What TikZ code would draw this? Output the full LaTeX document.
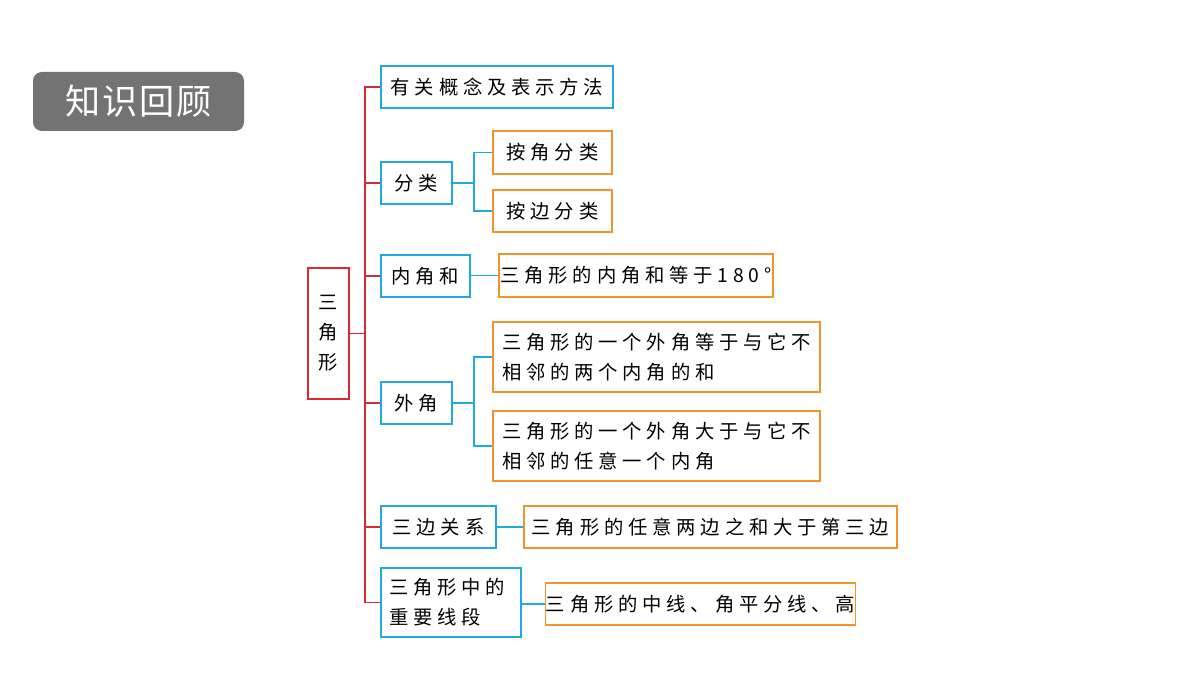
\documentclass[tikz,border=0pt]{standalone}
\usepackage{fontspec}
\setmainfont[LetterSpace=25]{Noto Sans CJK SC}
\usetikzlibrary{positioning, calc}

\definecolor{trunkred}{RGB}{220,40,50}
\definecolor{topblue}{RGB}{30,170,225}
\definecolor{leaforange}{RGB}{240,150,40}

\begin{document}
\begin{tikzpicture}[
    x=0.02cm, y=-0.02cm,
    every node/.style={font=\fontsize{11}{17}\selectfont, inner sep=0pt}, % 统一字体
    rootbox/.style={draw=trunkred, semithick, align=center},
    midbox/.style={draw=topblue, semithick, align=left},
    leafbox/.style={draw=leaforange, semithick, align=left},
    redline/.style={draw=trunkred, semithick},
    blueline/.style={draw=topblue, semithick}
]
    \useasboundingbox (0,0) rectangle (1200,675);

    % 标题
    \node[fill=black!55, rounded corners=5pt, text=white, minimum width=211*0.02cm, minimum height=59*0.02cm,
          font=\fontsize{20}{24}\selectfont\addfontfeature{LetterSpace=5}] (title) at (138.5,101.5) {知识回顾};

    % 1. 根结点
    \node[rootbox, minimum width=41*0.02cm, minimum height=131*0.02cm] (root) at (328.5,333.5) {三\\角\\形};

    % 2. 第一层
    \node[midbox, minimum width=232*0.02cm, minimum height=42*0.02cm] (concept) at (497,87) {有关概念及表示方法};
    \node[midbox, minimum width=71*0.02cm, minimum height=42*0.02cm] (classify) at (416.5,183) {分类};
    \node[midbox, minimum width=89*0.02cm, minimum height=42*0.02cm] (inner) at (425.5,276) {内角和};
    \node[midbox, minimum width=71*0.02cm, minimum height=42*0.02cm] (outer) at (416.5,403) {外角};
    \node[midbox, minimum width=115*0.02cm, minimum height=42*0.02cm] (sides) at (438.5,527) {三边关系};
    \node[midbox, minimum width=140*0.02cm, minimum height=69*0.02cm, text width=124*0.02cm] (segment) at (451,602.5) {三角形中的\\重要线段};

    % 3. 第二层
    \node[leafbox, minimum width=119*0.02cm, minimum height=43*0.02cm] (byangle) at (552.5,152.5) {按角分类};
    \node[leafbox, minimum width=119*0.02cm, minimum height=42*0.02cm] (byside) at (552.5,211) {按边分类};
    \node[leafbox, minimum width=274*0.02cm, minimum height=43*0.02cm] (anglesum) at (636,275.5) {三角形的内角和等于180°};
    \node[leafbox, minimum width=327*0.02cm, minimum height=70*0.02cm, text width=309*0.02cm] (outereq) at (656.5,357) {三角形的一个外角等于与它不\\相邻的两个内角的和};
    \node[leafbox, minimum width=327*0.02cm, minimum height=70*0.02cm, text width=309*0.02cm] (outergt) at (656.5,446) {三角形的一个外角大于与它不\\相邻的任意一个内角};
    \node[leafbox, minimum width=373*0.02cm, minimum height=42*0.02cm] (sidesum) at (710.5,527) {三角形的任意两边之和大于第三边};
    \node[leafbox, minimum width=303*0.02cm, minimum height=42*0.02cm] (median) at (700.5,604) {三角形的中线、角平分线、高};

    % 4. 红色主干
    \coordinate (trunk) at (365,333.5);
    \draw[redline] (root.east) -- (trunk);
    \foreach \n in {concept,classify,inner,outer,sides,segment} {
        \draw[redline] (trunk) |- (\n.west);
    }

    % 5. 蓝色分支
    \coordinate (cfork) at (474,183);
    \draw[blueline] (classify.east) -- (cfork);
    \foreach \n in {byangle,byside} { \draw[blueline] (cfork) |- (\n.west); }
    \coordinate (ofork) at (474,403);
    \draw[blueline] (outer.east) -- (ofork);
    \foreach \n in {outereq,outergt} { \draw[blueline] (ofork) |- (\n.west); }
    \draw[blueline] (inner.east |- anglesum.west) -- (anglesum.west);
    \draw[blueline] (sides.east) -- (sidesum.west);
    \draw[blueline] (segment.east |- median.west) -- (median.west);
\end{tikzpicture}
\end{document}
